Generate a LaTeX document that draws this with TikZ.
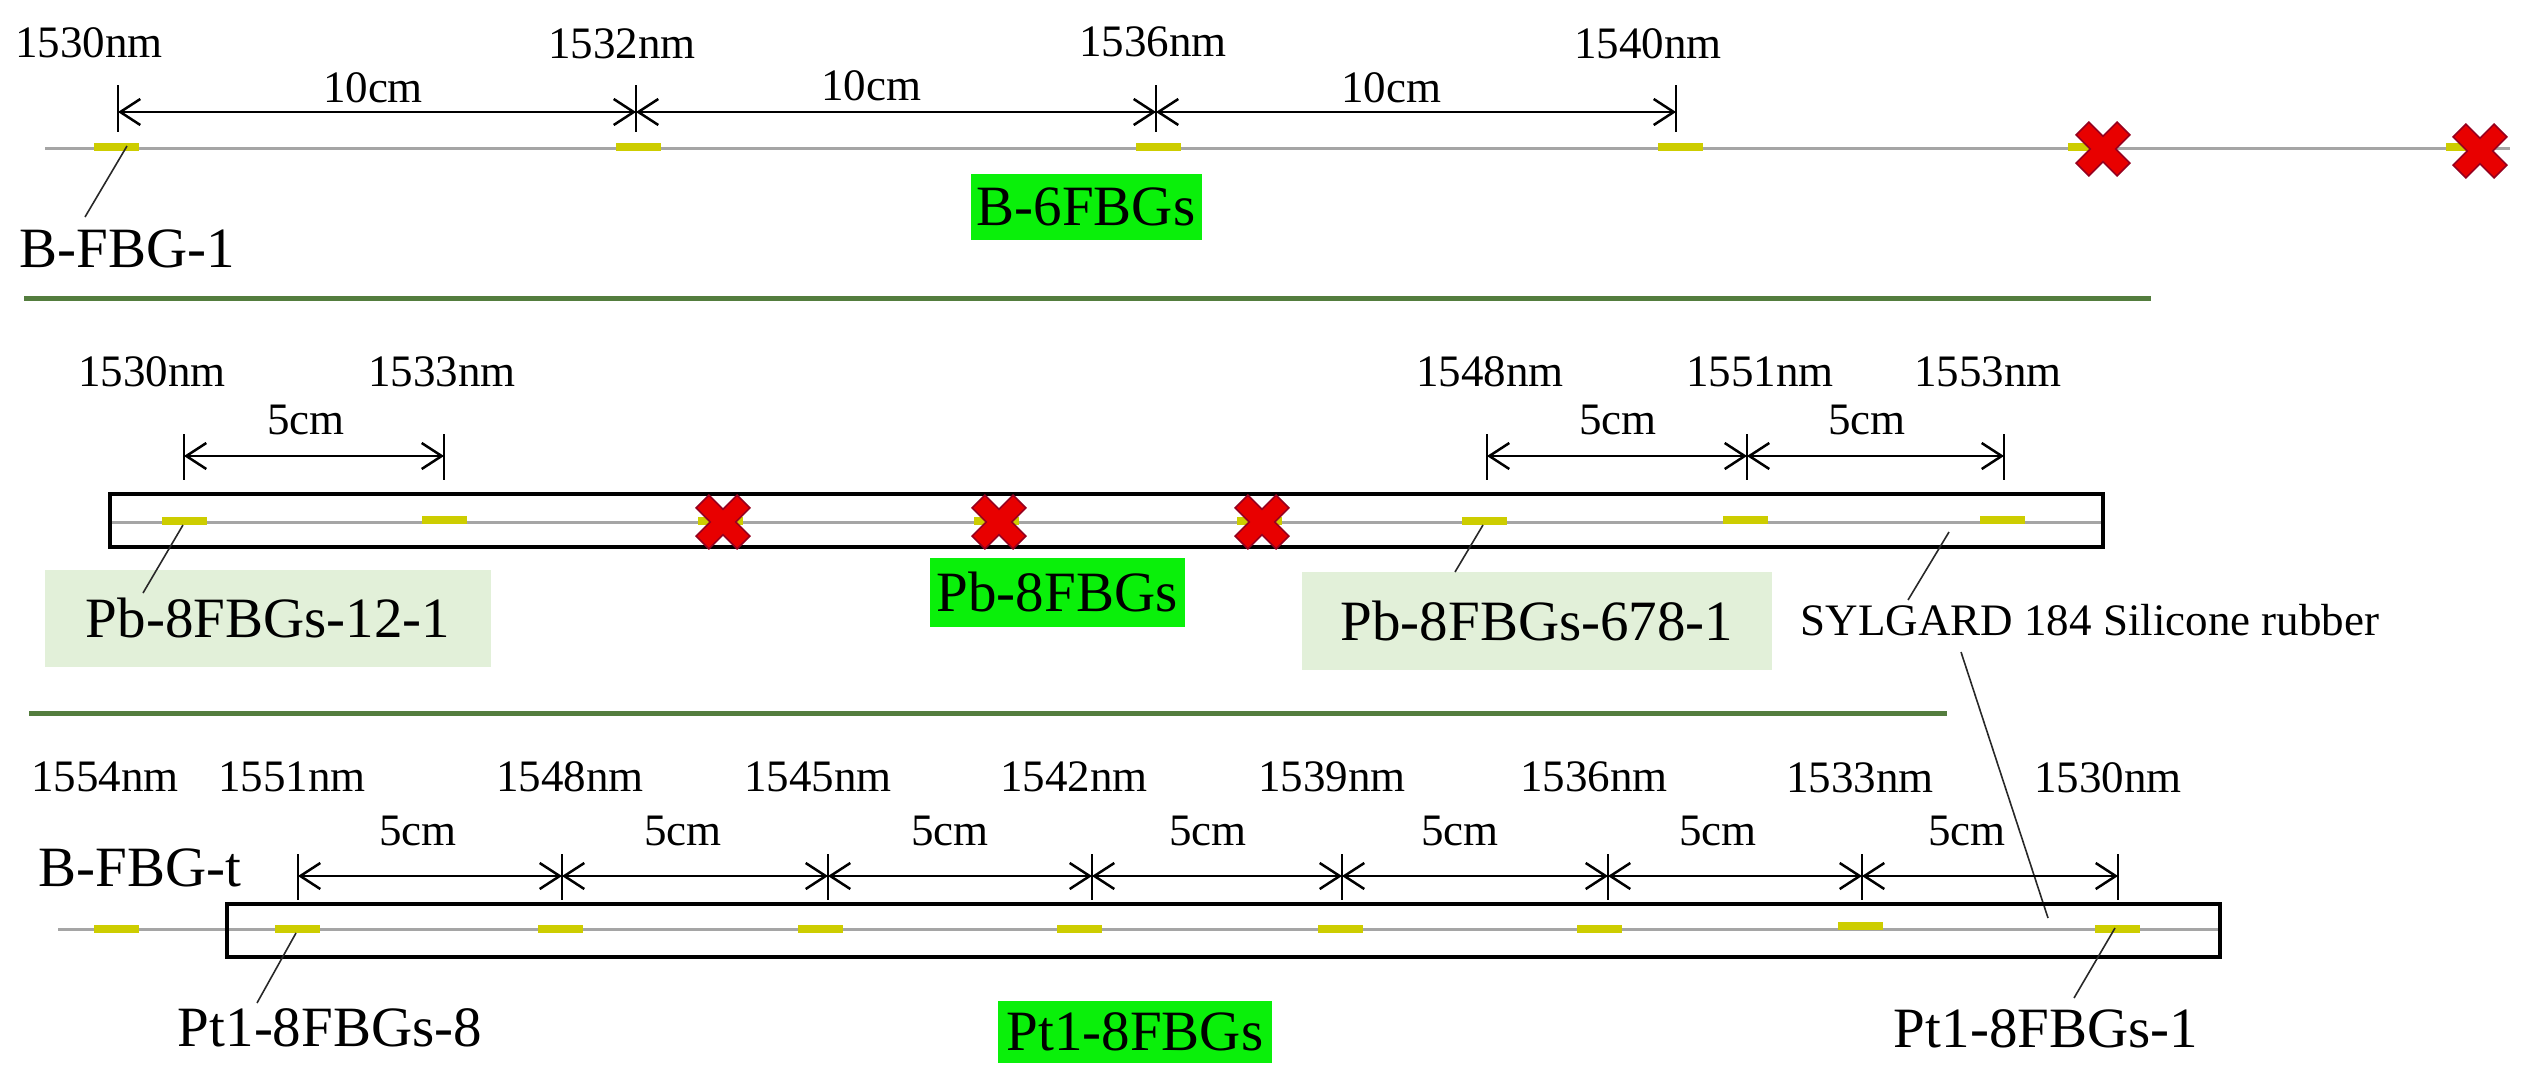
\documentclass[tikz,border=0pt]{standalone}
\usepackage{fontspec}
\setmainfont{Liberation Serif}
\usetikzlibrary{arrows.meta}
\definecolor{fbgyellow}{RGB}{205,205,0}
\definecolor{fibergray}{RGB}{165,165,165}
\definecolor{sepgreen}{RGB}{84,125,62}
\definecolor{brightgreen}{RGB}{10,240,10}
\definecolor{palegreen}{RGB}{226,240,217}
\definecolor{xred}{RGB}{232,0,0}
\definecolor{xdark}{RGB}{150,0,30}
\tikzset{
  fiber/.style={draw=fibergray, line width=3pt},
  fbg/.style={rectangle, fill=fbgyellow, draw=none, minimum width=45pt, minimum height=8pt, inner sep=0pt},
  tick/.style={line width=2.5pt},
  dim/.style={line width=2.5pt, {Straight Barb[length=20pt,width=26pt]}-{Straight Barb[length=20pt,width=26pt]}},
  leader/.style={line width=1.6pt, draw={rgb,255:red,40;green,40;blue,40}},
  sep/.style={draw=sepgreen, line width=5pt},
  rubber/.style={rectangle, draw=black, line width=3.5pt, minimum width=1993pt, minimum height=53pt, inner sep=0pt},
  small/.style={inner sep=0pt, font=\fontsize{45}{54}\selectfont},
  big/.style={inner sep=0pt, font=\fontsize{57}{68}\selectfont},
  tag/.style={big, fill=brightgreen},
  pale/.style={big, fill=palegreen},
  pics/redx/.style={code={
    \filldraw[fill=xred, draw=xdark, line width=1.5pt, rotate=45]
      (-9,29) -- (9,29) -- (9,9) -- (29,9) -- (29,-9) -- (9,-9) -- (9,-29)
      -- (-9,-29) -- (-9,-9) -- (-29,-9) -- (-29,9) -- (-9,9) -- cycle;}}
}
\begin{document}
\begin{tikzpicture}[x=1pt,y=-1pt]
\useasboundingbox (0,0) rectangle (2527,1090);

% ================= TOP ROW =================
\coordinate (fa1) at (45,148);
\coordinate (fb1) at (2510,148);
\draw[fiber] (fa1) -- (fb1);
\node[fbg] (t1) at (116,147) {};
\node[fbg] (t2) at (638,147) {};
\node[fbg] (t3) at (1158,147) {};
\node[fbg] (t4) at (1680,147) {};
\node[fbg] (t5) at (2090,147) {};
\node[fbg] (t6) at (2468,147) {};
\pic at (2103,149) {redx};
\pic at (2480,151) {redx};

\foreach \n/\x in {1/118,2/636,3/1156,4/1676}{
  \coordinate (tk\n a) at (\x,85);
  \coordinate (tk\n b) at (\x,132);
  \coordinate (td\n) at (\x,112);
  \draw[tick] (tk\n a) -- (tk\n b);
}
\draw[dim] (td1) -- (td2);
\draw[dim] (td2) -- (td3);
\draw[dim] (td3) -- (td4);

\node[small] (tn1) at (89,43) {1530nm};
\node[small] (tn2) at (622,44) {1532nm};
\node[small] (tn3) at (1153,42) {1536nm};
\node[small] (tn4) at (1648,44) {1540nm};
\node[small] (tc1) at (373,88) {10cm};
\node[small] (tc2) at (871,86) {10cm};
\node[small] (tc3) at (1391,88) {10cm};

\node[big] (bfbg1) at (127,249) {B-FBG-1};
\coordinate (l1a) at (127,146);
\coordinate (l1b) at (85,217);
\draw[leader] (l1a) -- (l1b);

\node[tag, minimum width=231pt, minimum height=66pt] (b6) at (1086,207) {B-6FBGs};

\coordinate (s1a) at (24,298);
\coordinate (s1b) at (2151,298);
\draw[sep] (s1a) -- (s1b);

% ================= MIDDLE ROW =================
\coordinate (fa2) at (110,522);
\coordinate (fb2) at (2103,522);
\draw[fiber] (fa2) -- (fb2);
\node[rubber] (rub1) at (1106.5,520.5) {};
\node[fbg] (m1) at (184,521) {};
\node[fbg] (m2) at (444,520) {};
\node[fbg] (m3) at (720,521) {};
\node[fbg] (m4) at (996,521) {};
\node[fbg] (m5) at (1259,521) {};
\node[fbg] (m6) at (1484,521) {};
\node[fbg] (m7) at (1745,520) {};
\node[fbg] (m8) at (2002,520) {};
\pic at (723,522) {redx};
\pic at (999,522) {redx};
\pic at (1262,522) {redx};

\foreach \n/\x in {1/184,2/444,3/1487,4/1747,5/2004}{
  \coordinate (mk\n a) at (\x,434);
  \coordinate (mk\n b) at (\x,480);
  \coordinate (md\n) at (\x,456);
  \draw[tick] (mk\n a) -- (mk\n b);
}
\draw[dim] (md1) -- (md2);
\draw[dim] (md3) -- (md4);
\draw[dim] (md4) -- (md5);

\node[small] (mn1) at (152,372) {1530nm};
\node[small] (mn2) at (442,372) {1533nm};
\node[small] (mn3) at (1490,372) {1548nm};
\node[small] (mn4) at (1760,372) {1551nm};
\node[small] (mn5) at (1988,372) {1553nm};
\node[small] (mc1) at (306,420) {5cm};
\node[small] (mc2) at (1618,420) {5cm};
\node[small] (mc3) at (1867,420) {5cm};

\node[pale, minimum width=446pt, minimum height=97pt] (pb12) at (268,618) {Pb-8FBGs-12-1};
\node[pale, minimum width=470pt, minimum height=98pt] (pb678) at (1537,621) {Pb-8FBGs-678-1};
\node[tag, minimum width=255pt, minimum height=69pt] (pb8) at (1057,592) {Pb-8FBGs};
\node[small] (syl) at (2090,620) {SYLGARD 184 Silicone rubber};

\coordinate (l2a) at (183,525);
\coordinate (l2b) at (143,593);
\draw[leader] (l2a) -- (l2b);
\coordinate (l3a) at (1483,525);
\coordinate (l3b) at (1455,572);
\draw[leader] (l3a) -- (l3b);
\coordinate (l4a) at (1949,532);
\coordinate (l4b) at (1908,600);
\draw[leader] (l4a) -- (l4b);
\coordinate (l5a) at (1961,652);
\coordinate (l5b) at (2048,918);
\draw[leader] (l5a) -- (l5b);

\coordinate (s2a) at (29,713);
\coordinate (s2b) at (1947,713);
\draw[sep] (s2a) -- (s2b);

% ================= BOTTOM ROW =================
\coordinate (fa3) at (58,929);
\coordinate (fb3) at (2220,929);
\draw[fiber] (fa3) -- (fb3);
\node[rubber] (rub2) at (1223.5,930.5) {};
\node[fbg] (bt) at (116,929) {};
\node[fbg] (p8) at (297,929) {};
\node[fbg] (p7) at (560,929) {};
\node[fbg] (p6) at (820,929) {};
\node[fbg] (p5) at (1079,929) {};
\node[fbg] (p4) at (1340,929) {};
\node[fbg] (p3) at (1599,929) {};
\node[fbg] (p2) at (1860,926) {};
\node[fbg] (p1) at (2117,929) {};

\foreach \n/\x in {1/298,2/562,3/828,4/1092,5/1342,6/1608,7/1862,8/2118}{
  \coordinate (bk\n a) at (\x,854);
  \coordinate (bk\n b) at (\x,900);
  \coordinate (bd\n) at (\x,876);
  \draw[tick] (bk\n a) -- (bk\n b);
}
\foreach \a/\b in {1/2,2/3,3/4,4/5,5/6,6/7,7/8}{
  \draw[dim] (bd\a) -- (bd\b);
}

\node[small] (bn0) at (105,777) {1554nm};
\node[small] (bn1) at (292,777) {1551nm};
\node[small] (bn2) at (570,777) {1548nm};
\node[small] (bn3) at (818,777) {1545nm};
\node[small] (bn4) at (1074,777) {1542nm};
\node[small] (bn5) at (1332,777) {1539nm};
\node[small] (bn6) at (1594,777) {1536nm};
\node[small] (bn7) at (1860,778) {1533nm};
\node[small] (bn8) at (2108,778) {1530nm};
\node[small] (bc1) at (418,831) {5cm};
\node[small] (bc2) at (683,831) {5cm};
\node[small] (bc3) at (950,831) {5cm};
\node[small] (bc4) at (1208,831) {5cm};
\node[small] (bc5) at (1460,831) {5cm};
\node[small] (bc6) at (1718,831) {5cm};
\node[small] (bc7) at (1967,831) {5cm};

\node[big] (bfbgt) at (140,868) {B-FBG-t};
\node[big] (pt8) at (330,1028) {Pt1-8FBGs-8};
\node[big] (pt1) at (2046,1029) {Pt1-8FBGs-1};
\node[tag, minimum width=274pt, minimum height=62pt] (pt) at (1135,1032) {Pt1-8FBGs};

\coordinate (l6a) at (296,933);
\coordinate (l6b) at (257,1003);
\draw[leader] (l6a) -- (l6b);
\coordinate (l7a) at (2115,928);
\coordinate (l7b) at (2074,998);
\draw[leader] (l7a) -- (l7b);
\end{tikzpicture}
\end{document}
